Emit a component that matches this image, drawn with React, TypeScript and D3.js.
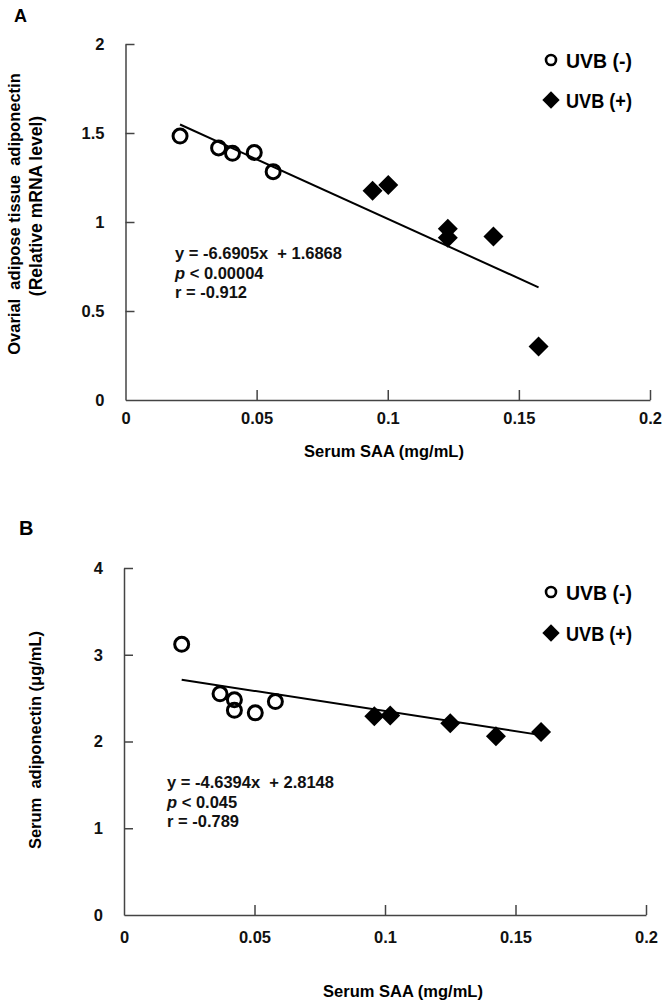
import * as d3 from 'd3';
import { useEffect, useRef } from 'react';

// Panel A: ovarial adipose tissue adiponectin vs serum SAA
const aUvbMinusX = [0.0208, 0.0355, 0.0408, 0.0491, 0.0563];
const aUvbMinusY = [1.483, 1.416, 1.386, 1.39, 1.283];
const aUvbPlusX = [0.0942, 0.1002, 0.1229, 0.1229, 0.1403, 0.1575];
const aUvbPlusY = [1.176, 1.208, 0.962, 0.912, 0.918, 0.3];
const aFit = { slope: -6.6905, intercept: 1.6868 };
const aStats = ['y = -6.6905x  + 1.6868', '< 0.00004', 'r = -0.912'];

// Panel B: serum adiponectin vs serum SAA
const bUvbMinusX = [0.0221, 0.0368, 0.0423, 0.0423, 0.0503, 0.058];
const bUvbMinusY = [3.12, 2.55, 2.48, 2.36, 2.33, 2.46];
const bUvbPlusX = [0.0959, 0.102, 0.125, 0.1425, 0.1598];
const bUvbPlusY = [2.29, 2.3, 2.21, 2.06, 2.11];
const bFit = { slope: -4.6394, intercept: 2.8148 };
const bStats = ['y = -4.6394x  + 2.8148', '< 0.045', 'r = -0.789'];

const xTicks = [0, 0.05, 0.1, 0.15, 0.2];
const aYTicks = [0, 0.5, 1, 1.5, 2];
const bYTicks = [0, 1, 2, 3, 4];
const legendLabels = ['UVB (-)', 'UVB (+)'];

const FONT = "'Liberation Sans', Arial, sans-serif";

const drawPanel = (svg, cfg) => {
  const g = svg.append('g');
  const x = d3.scaleLinear().domain([0, 0.2]).range([cfg.left, cfg.right]);
  const y = d3.scaleLinear().domain([0, cfg.yMax]).range([cfg.bottom, cfg.top]);

  // letter
  g.append('text').attr('x', cfg.letter[0]).attr('y', cfg.letter[1])
    .attr('font-size', cfg.letterSize).attr('font-weight', 'bold').text(cfg.letterText);

  const yAxis = g.append('g').attr('transform', `translate(${cfg.left},0)`)
    .call(d3.axisLeft(y).tickValues(cfg.yTicks).tickSizeInner(-9).tickSizeOuter(0)
      .tickPadding(21).tickFormat(d => d3.format('')(d)));
  const xAxis = g.append('g').attr('transform', `translate(0,${cfg.bottom})`)
    .call(d3.axisBottom(x).tickValues(xTicks).tickSizeInner(-10).tickSizeOuter(0)
      .tickPadding(cfg.xPad).tickFormat(d => d3.format('')(d)));
  [yAxis, xAxis].forEach(a => {
    a.select('.domain').attr('stroke', '#444').attr('stroke-width', 1.5);
    a.selectAll('.tick line').attr('stroke', '#444').attr('stroke-width', 1.5);
    a.selectAll('.tick text').attr('font-size', 16.5).attr('font-weight', 'bold')
      .attr('font-family', FONT).attr('fill', '#111');
  });
  yAxis.selectAll('.tick').filter(d => d === 0).select('line').remove();
  xAxis.selectAll('.tick').filter(d => d === 0).select('line').remove();

  // axis titles
  g.append('text').attr('x', cfg.xTitle[0]).attr('y', cfg.xTitle[1])
    .attr('text-anchor', 'middle').attr('font-size', 16.5).attr('font-weight', 'bold')
    .text('Serum SAA (mg/mL)');
  cfg.yTitle.forEach((t, i) => {
    g.append('text')
      .attr('transform', `translate(${cfg.yTitleX[i]},${cfg.yTitleY[i]}) rotate(-90)`)
      .attr('text-anchor', 'middle').attr('dominant-baseline', 'central')
      .attr('font-size', cfg.yTitleSize[i]).attr('font-weight', 'bold').style('white-space', 'pre')
      .text(t);
  });

  // regression line
  const xs = [...cfg.minusX, ...cfg.plusX];
  const x0 = d3.min(xs), x1 = d3.max(xs);
  const line = d3.line().x(d => x(d)).y(d => y(cfg.fit.slope * d + cfg.fit.intercept));
  g.append('path').attr('d', line([x0, x1])).attr('fill', 'none')
    .attr('stroke', '#000').attr('stroke-width', 2);

  // points
  const diamond = d3.symbol().type(d3.symbolSquare).size(200);
  cfg.plusX.forEach((px, i) => {
    g.append('path').attr('d', diamond())
      .attr('transform', `translate(${x(px)},${y(cfg.plusY[i])}) rotate(45)`)
      .attr('fill', '#000');
  });
  cfg.minusX.forEach((px, i) => {
    g.append('circle').attr('cx', x(px)).attr('cy', y(cfg.minusY[i])).attr('r', 7)
      .attr('fill', 'none').attr('stroke', '#000').attr('stroke-width', 3);
  });

  // stats
  const st = g.append('text').attr('font-size', 16.5).attr('font-weight', 'bold')
    .attr('fill', '#111').style('white-space', 'pre');
  st.append('tspan').attr('x', cfg.stats[0]).attr('y', cfg.stats[1]).text(cfg.statText[0]);
  const p = st.append('tspan').attr('x', cfg.stats[0]).attr('y', cfg.stats[1] + 19.5);
  p.append('tspan').attr('font-style', 'italic').text('p ');
  p.append('tspan').text(cfg.statText[1]);
  st.append('tspan').attr('x', cfg.stats[0]).attr('y', cfg.stats[1] + 39).text(cfg.statText[2]);

  // legend
  g.append('circle').attr('cx', 551).attr('cy', cfg.legendY[0]).attr('r', 5)
    .attr('fill', 'none').attr('stroke', '#000').attr('stroke-width', 2.6);
  g.append('path').attr('d', d3.symbol().type(d3.symbolSquare).size(150)())
    .attr('transform', `translate(551,${cfg.legendY[1]}) rotate(45)`).attr('fill', '#000');
  legendLabels.forEach((l, i) => {
    g.append('text').attr('x', 566).attr('y', cfg.legendY[i] + 7.5)
      .attr('font-size', 20).attr('font-weight', 'bold').attr('textLength', 66)
      .attr('lengthAdjust', 'spacingAndGlyphs').text(l);
  });
};

const App = () => {
  const ref = useRef(null);

  useEffect(() => {
    const svg = d3.select(ref.current);
    svg.selectAll('*').remove();
    svg.attr('font-family', FONT);

    drawPanel(svg, {
      left: 125.5, right: 650, top: 44, bottom: 400, yMax: 2, yTicks: aYTicks, xPad: 12,
      letter: [14, 22], letterSize: 18, letterText: 'A',
      xTitle: [384, 457], yTitle: ['Ovarial  adipose tissue  adiponectin', '(Relative mRNA level)'],
      yTitleX: [14, 36], yTitleY: [214, 206], yTitleSize: [16.5, 17.5],
      minusX: aUvbMinusX, minusY: aUvbMinusY, plusX: aUvbPlusX, plusY: aUvbPlusY,
      fit: aFit, stats: [175, 259], statText: aStats, legendY: [60, 100],
    });
    drawPanel(svg, {
      left: 124, right: 646, top: 568, bottom: 915, yMax: 4, yTicks: bYTicks, xPad: 16,
      letter: [19, 535], letterSize: 20, letterText: 'B',
      xTitle: [403, 997], yTitle: ['Serum  adiponectin (μg/mL)'],
      yTitleX: [35], yTitleY: [740], yTitleSize: [16.5],
      minusX: bUvbMinusX, minusY: bUvbMinusY, plusX: bUvbPlusX, plusY: bUvbPlusY,
      fit: bFit, stats: [167, 788], statText: bStats, legendY: [592, 633],
    });
  }, []);

  return (
    <svg ref={ref} width={662} height={1007}
      style={{ position: 'absolute', left: 0, top: 0, background: '#fff' }} />
  );
};

export default App;
